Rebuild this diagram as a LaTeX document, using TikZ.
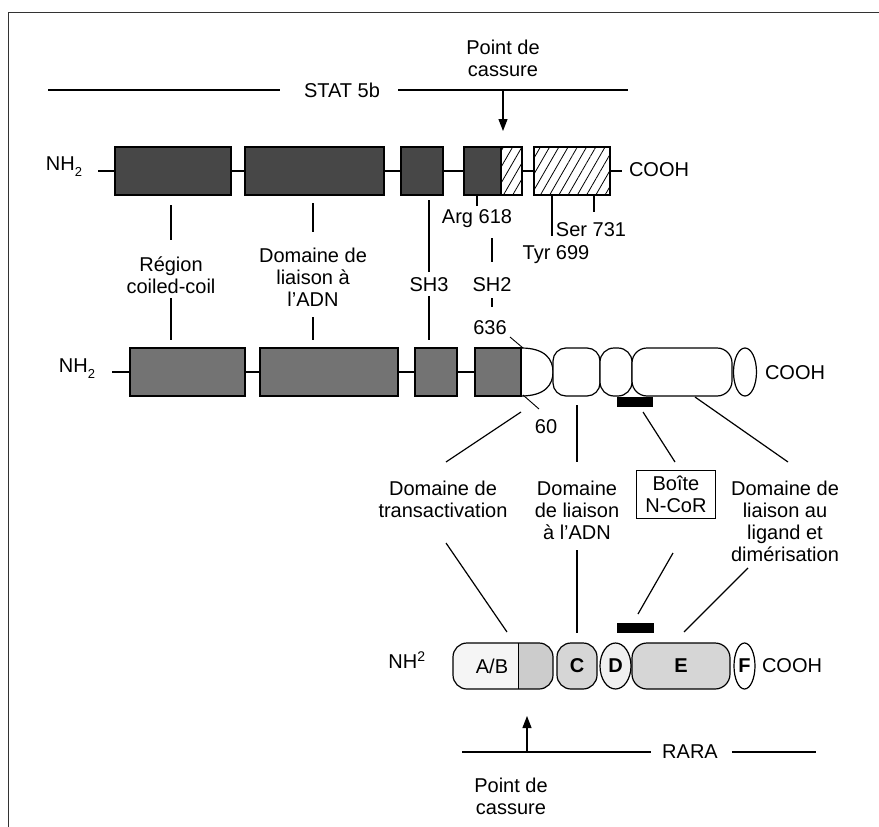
\documentclass[tikz,border=0pt]{standalone}
\usepackage{fontspec}
\setmainfont{Liberation Sans}
\usetikzlibrary{calc,shapes.geometric,arrows.meta,patterns.meta}
\begin{document}
\begin{tikzpicture}[x=1pt,y=-1pt,
  every node/.style={font=\fontsize{20}{22}\selectfont, inner sep=0pt},
  lbl/.style={align=center},
  ln/.style={line width=1.2pt},
  dark/.style={draw, line width=1.2pt, fill=black!72},
  mid/.style={draw, line width=1.2pt, fill=black!55},
  hatch/.style={draw, line width=1.2pt, preaction={fill=white}, pattern={Lines[angle=60,distance=8pt,line width=0.8pt]}},
  seg/.style={draw, line width=1.2pt, fill=white},
  lite/.style={draw, line width=1.2pt, fill=black!16},
  arr/.style={line width=1.2pt,-{Triangle[length=12pt,width=9pt]}}
]
\useasboundingbox (0,0) rectangle (879,827);
% frame
\draw[line width=0.9pt, black!80] (8,827) -- (8,12) -- (879,12);

% ---------- top : STAT 5b ----------
\node[lbl] (pc1) at (503,58) {Point de\\cassure};
\node (stat) at (342,90) {STAT 5b};
\coordinate (sl) at (48,90);
\coordinate (sr) at (628,90);
\draw[ln] (sl) -- ($(stat.west)+(-24,0)$);
\draw[ln] ($(stat.east)+(18,0)$) -- (sr);
\coordinate (a1s) at (503,90);
\coordinate (a1e) at (503,131);
\draw[arr] (a1s) -- (a1e);

% row 1
\node (nh1) at (64,167) {NH\raisebox{-0.55ex}{\fontsize{13}{13}\selectfont 2}};
\coordinate (r1a) at (98,171);
\coordinate (r1b) at (622,171);
\draw[ln] (r1a) -- (r1b);
\path[dark] (115,147) rectangle (231,195);
\path[dark] (245,147) rectangle (384,195);
\path[dark] (401,147) rectangle (443,195);
\path[dark] (464,147) rectangle (501,195);
\path[hatch] (501,147) rectangle (522,195);
\path[hatch] (534,147) rectangle (610,195);
\node (cooh1) at (659,170) {COOH};

% residue ticks
\draw[ln] (477,195) -- (477,206);
\node (arg) at (477,219) {Arg 618};
\draw[ln] (552,195) -- (552,236);
\node (tyr) at (556,255) {Tyr 699};
\draw[ln] (594,195) -- (594,212);
\node (ser) at (591,230) {Ser 731};

% labels between rows
\node[lbl] (reg) at (171,275) {Région\\coiled-coil};
\draw[ln] (171,205) -- (171,240);
\draw[ln] (171,298) -- (171,340);
\node[lbl] (dad) at (313,277) {Domaine de\\liaison à\\l'ADN};
\draw[ln] (313,203) -- (313,232);
\draw[ln] (313,317) -- (313,340);
\node (sh3) at (429,285) {SH3};
\draw[ln] (429,200) -- (429,272);
\draw[ln] (429,296) -- (429,340);
\node (sh2) at (492,285) {SH2};
\draw[ln] (492,238) -- (492,262);
\draw[ln] (492,298) -- (492,307);
\node (n636) at (490,328) {636};

% ---------- row 2 ----------
\node (nh2) at (77,369) {NH\raisebox{-0.55ex}{\fontsize{13}{13}\selectfont 2}};
\coordinate (r2a) at (112,372);
\coordinate (r2b) at (521,372);
\draw[ln] (r2a) -- (r2b);
\path[mid] (130,348) rectangle (245,396);
\path[mid] (260,348) rectangle (398,396);
\path[mid] (415,348) rectangle (457,396);
\path[mid] (475,348) rectangle (521,396);
\draw[ln] (521,348) .. controls (546,348) and (553,360) .. (553,372) .. controls (553,384) and (546,396) .. (521,396);
\node[seg, rounded corners=13pt, minimum width=47pt, minimum height=48pt] (c2) at (576.5,372) {};
\node[seg, rounded corners=14pt, minimum width=32pt, minimum height=48pt] (c3) at (616,372) {};
\node[seg, rounded corners=15pt, minimum width=100pt, minimum height=48pt] (c4) at (682,372) {};
\node[seg, ellipse, minimum width=23pt, minimum height=48pt] (c5) at (745,372) {};
\node (cooh2) at (795,373) {COOH};
\draw[line width=0.9pt] (510,337) -- (523,348);
\draw[line width=0.9pt] (523,395) -- (539,409);
\node (n60) at (546,427) {60};
\node[fill=black, minimum width=36pt, minimum height=10pt] (bar1) at (635,402) {};

% ---------- middle labels ----------
\node[lbl] (trans) at (443,499) {Domaine de\\transactivation};
\node[lbl] (dlad) at (577,510) {Domaine\\de liaison\\à l'ADN};
\node[lbl, draw, line width=0.9pt, minimum width=79pt, minimum height=48pt] (ncor) at (676,494) {Boîte\\N-CoR};
\node[lbl] (lig) at (785,521) {Domaine de\\liaison au\\ligand et\\dimérisation};

\coordinate (t1) at (521,412);
\coordinate (t2) at (446,462);
\draw[ln] (t1) -- (t2);
\coordinate (d1) at (577,405);
\coordinate (d2) at (577,462);
\draw[ln] (d1) -- (d2);
\coordinate (n1) at (643,412);
\coordinate (n2) at (675,462);
\draw[ln] (n1) -- (n2);
\coordinate (l1) at (695,397);
\coordinate (l2) at (788,462);
\draw[ln] (l1) -- (l2);

\coordinate (t3) at (446,543);
\coordinate (t4) at (507,632);
\draw[ln] (t3) -- (t4);
\coordinate (d3) at (577,550);
\coordinate (d4) at (577,633);
\draw[ln] (d3) -- (d4);
\coordinate (n3) at (673,553);
\coordinate (n4) at (638,614);
\draw[ln] (n3) -- (n4);
\coordinate (l3) at (748,568);
\coordinate (l4) at (684,632);
\draw[ln] (l3) -- (l4);
\node[fill=black, minimum width=37pt, minimum height=10pt] (bar2) at (635.5,628) {};

% ---------- RARA row ----------
\node (nh3) at (407,660) {NH\textsuperscript{2}};
\begin{scope}
  \clip[rounded corners=14pt] (453,643) rectangle (553,689);
  \fill[black!4] (453,643) rectangle (518,689);
  \fill[black!20] (518,643) rectangle (553,689);
\end{scope}
\draw[line width=1.2pt, rounded corners=14pt] (453,643) rectangle (553,689);
\draw[line width=0.9pt] (518,643) -- (518,689);
\node (ab) at (492,666) {A/B};
\node[lite, rounded corners=14pt, minimum width=40pt, minimum height=46pt] (rc) at (577,666) {\bfseries C};
\node[seg, fill=black!6, ellipse, minimum width=31pt, minimum height=46pt] (rd) at (615.5,666) {\bfseries D};
\node[lite, rounded corners=15pt, minimum width=98pt, minimum height=46pt] (re) at (681,666) {\bfseries E};
\node[seg, ellipse, minimum width=21pt, minimum height=46pt] (rf) at (744.5,666) {\bfseries F};
\node (cooh3) at (792,666) {COOH};

\node (rara) at (690,752) {RARA};
\coordinate (rl) at (462,752);
\coordinate (rr) at (816,752);
\draw[ln] (rl) -- ($(rara.west)+(-11,0)$);
\draw[ln] ($(rara.east)+(14,0)$) -- (rr);
\coordinate (a2s) at (527,752);
\coordinate (a2e) at (527,716);
\draw[arr] (a2s) -- (a2e);
\node[lbl] (pc2) at (511,796) {Point de\\cassure};
\end{tikzpicture}
\end{document}
